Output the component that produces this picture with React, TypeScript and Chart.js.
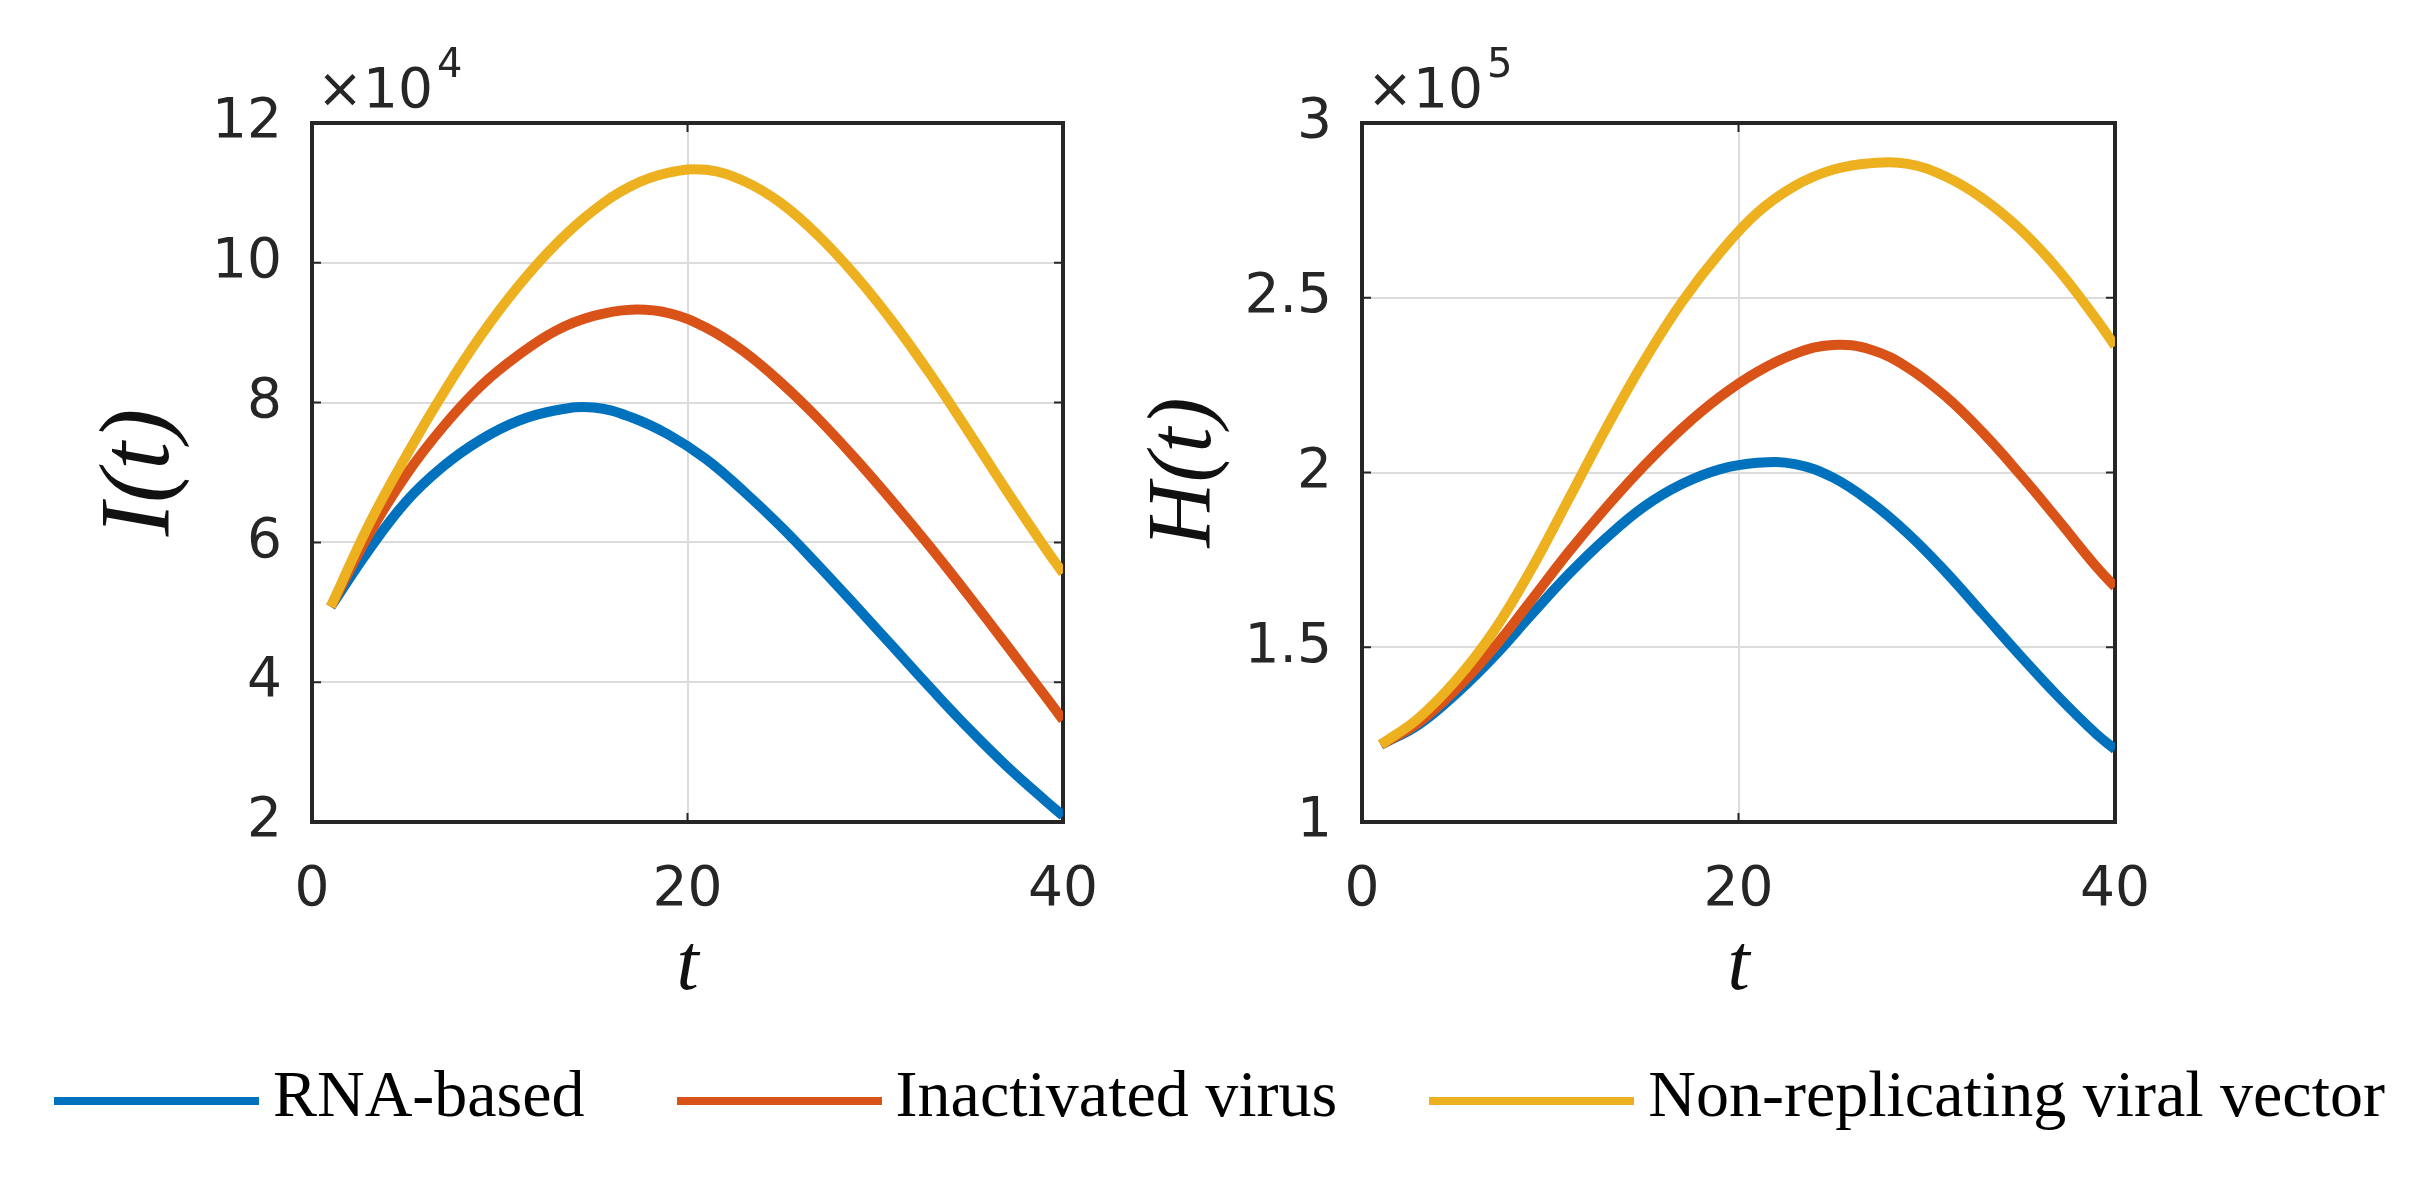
import { useEffect, useRef } from 'react';
import { Chart, registerables } from 'chart.js';

Chart.register(...registerables);

// time samples
const timePoints = [1, 3, 5, 7, 9, 11, 13, 15, 17, 19, 21, 23, 25, 27, 29, 31, 33, 35, 37, 39, 40];

// I(t)
const infectedRna = [50800, 58800, 65800, 70900, 74700, 77400, 78900, 79300, 77900, 75400, 71900, 67300, 62200, 56600, 50800, 44900, 39000, 33300, 28000, 23200, 20900];
const infectedInactivated = [50800, 61000, 69600, 76600, 82400, 86800, 90300, 92400, 93300, 92800, 90700, 87300, 82800, 77600, 71800, 65600, 59100, 52300, 45300, 38200, 34600];
const infectedViralVector = [50800, 62400, 72300, 81400, 89600, 96700, 102700, 107500, 111000, 112900, 113300, 111700, 108500, 103800, 98000, 91300, 83800, 75700, 67400, 59400, 55600];

// H(t)
const hospitalRna = [122100, 127800, 136700, 147300, 159300, 171000, 181400, 190300, 196700, 200900, 202800, 202400, 198600, 191600, 182500, 171600, 159500, 147400, 135800, 125200, 120800];
const hospitalInactivated = [122100, 128400, 138000, 149800, 163500, 177400, 190200, 202000, 212600, 221600, 228800, 234000, 236500, 235200, 230000, 221800, 211300, 199200, 186300, 173100, 167300];
const hospitalViralVector = [122100, 129700, 140600, 154600, 172400, 192600, 213000, 232000, 248800, 262800, 274300, 282000, 286600, 288500, 288300, 284700, 278300, 269400, 257900, 243900, 236200];

const seriesNames = ['RNA-based', 'Inactivated virus', 'Non-replicating viral vector'];
const seriesColors = ['#0072BD', '#D95319', '#EDB120'];

const xTicks = [0, 20, 40];
const infectedTicks = [2, 4, 6, 8, 10, 12];
const hospitalTicks = [1, 1.5, 2, 2.5, 3];

const AXIS_COLOR = '#262626';
const TICK_FONT = '"DejaVu Sans", sans-serif';
const SERIF = '"Liberation Serif", "Times New Roman", serif';

// draws the MATLAB-style box, inward ticks and the x10^n multiplier
const framePlugin = {
  id: 'frame',
  beforeDatasetsDraw(chart: any, _args: any, opts: any) {
    const { ctx, chartArea, scales } = chart;
    const { left, right, top, bottom } = chartArea;
    ctx.save();
    ctx.strokeStyle = AXIS_COLOR;
    ctx.lineWidth = 2;
    const tickLen = 9;
    ctx.beginPath();
    scales.x.ticks.forEach((t: any) => {
      const px = scales.x.getPixelForValue(t.value);
      ctx.moveTo(px, bottom);
      ctx.lineTo(px, bottom - tickLen);
      ctx.moveTo(px, top);
      ctx.lineTo(px, top + tickLen);
    });
    scales.y.ticks.forEach((t: any) => {
      const py = scales.y.getPixelForValue(t.value);
      ctx.moveTo(left, py);
      ctx.lineTo(left + tickLen, py);
      ctx.moveTo(right, py);
      ctx.lineTo(right - tickLen, py);
    });
    ctx.stroke();
    ctx.lineWidth = 4;
    ctx.strokeRect(left, top, right - left, bottom - top);

    ctx.fillStyle = AXIS_COLOR;
    ctx.textBaseline = 'alphabetic';
    ctx.textAlign = 'left';
    ctx.font = `55px ${TICK_FONT}`;
    const base = '\u00d710';
    ctx.fillText(base, left + 5, top - 16);
    const w = ctx.measureText(base).width;
    ctx.font = `40px ${TICK_FONT}`;
    ctx.fillText(opts.exponent, left + 5 + w + 4, top - 46);
    ctx.restore();
  },
};

interface PanelProps {
  series: number[][];
  yTicks: number[];
  divisor: number;
  exponent: string;
  yTitle: string;
  yTitleSize: number;
  left: number;
  width: number;
  yAxisWidth: number;
  yTitlePad: number;
}

const CANVAS_HEIGHT = 1020;
const BOX_TOP = 123;
const BOX_BOTTOM = 822;
const RIGHT_PAD = 77;

const Panel = ({ series, yTicks, divisor, exponent, yTitle, yTitleSize, left, width, yAxisWidth, yTitlePad }: PanelProps) => {
  const canvasRef = useRef<HTMLCanvasElement | null>(null);
  const chartRef = useRef<Chart | null>(null);

  useEffect(() => {
    if (!canvasRef.current) return;
    if (chartRef.current) chartRef.current.destroy();

    const tickCallback = (v: number | string) => String(Math.round((Number(v) / divisor) * 10) / 10);

    chartRef.current = new Chart(canvasRef.current, {
      type: 'line',
      data: {
        datasets: series.map((values, i) => ({
          label: seriesNames[i],
          data: timePoints.map((t, k) => ({ x: t, y: values[k] })),
          borderColor: seriesColors[i],
          backgroundColor: seriesColors[i],
          borderWidth: 10,
          pointRadius: 0,
          tension: 0.4,
          fill: false,
          order: 3 - i,
        })),
      },
      options: {
        responsive: true,
        maintainAspectRatio: false,
        animation: false,
        events: [],
        layout: {
          autoPadding: false,
          padding: { top: BOX_TOP, right: RIGHT_PAD, bottom: 0, left: 0 },
        },
        plugins: {
          legend: { display: false },
          tooltip: { enabled: false },
          frame: { exponent },
        } as any,
        scales: {
          x: {
            type: 'linear',
            min: xTicks[0],
            max: xTicks[xTicks.length - 1],
            afterBuildTicks: (scale: any) => {
              scale.ticks = xTicks.map((value) => ({ value }));
            },
            afterFit: (scale: any) => {
              scale.height = CANVAS_HEIGHT - BOX_BOTTOM;
            },
            border: { display: false },
            grid: { color: '#dcdcdc', lineWidth: 2, drawTicks: false },
            ticks: {
              padding: 36,
              color: AXIS_COLOR,
              font: { family: TICK_FONT, size: 55 },
              maxRotation: 0,
            },
            title: {
              display: true,
              text: 't',
              color: '#111',
              font: { family: SERIF, style: 'italic', size: 80 },
              padding: { top: 0, bottom: 4 },
            },
          },
          y: {
            type: 'linear',
            min: yTicks[0] * divisor,
            max: yTicks[yTicks.length - 1] * divisor,
            afterBuildTicks: (scale: any) => {
              scale.ticks = yTicks.map((v) => ({ value: v * divisor }));
            },
            afterFit: (scale: any) => {
              scale.width = yAxisWidth;
            },
            border: { display: false },
            grid: { color: '#dcdcdc', lineWidth: 2, drawTicks: false },
            ticks: {
              padding: 30,
              color: AXIS_COLOR,
              font: { family: TICK_FONT, size: 55 },
              callback: tickCallback,
            },
            title: {
              display: true,
              text: yTitle,
              color: '#111',
              font: { family: SERIF, style: 'italic', size: yTitleSize },
              padding: { top: yTitlePad, bottom: 0 },
            },
          },
        },
      },
      plugins: [framePlugin],
    });

    return () => {
      if (chartRef.current) {
        chartRef.current.destroy();
        chartRef.current = null;
      }
    };
  }, [series, yTicks, divisor, exponent, yTitle, yTitleSize, yAxisWidth, yTitlePad]);

  return (
    <div style={{ position: 'absolute', left, top: 0, width, height: CANVAS_HEIGHT }}>
      <canvas ref={canvasRef}></canvas>
    </div>
  );
};

const infectedSeries = [infectedRna, infectedInactivated, infectedViralVector];
const hospitalSeries = [hospitalRna, hospitalInactivated, hospitalViralVector];

const App = () => {
  return (
    <div style={{ position: 'fixed', left: 0, top: 0, width: 2416, height: 1184, background: '#fff', overflow: 'hidden' }}>
      <Panel
        series={infectedSeries}
        yTicks={infectedTicks}
        divisor={1e4}
        exponent="4"
        yTitle="I(t)"
        yTitleSize={100}
        left={40}
        width={1100}
        yAxisWidth={272}
        yTitlePad={42}
      />
      <Panel
        series={hospitalSeries}
        yTicks={hospitalTicks}
        divisor={1e5}
        exponent="5"
        yTitle="H(t)"
        yTitleSize={90}
        left={1110}
        width={1082}
        yAxisWidth={252}
        yTitlePad={22}
      />
      <div
        style={{
          position: 'absolute',
          left: 54,
          top: 1061,
          display: 'flex',
          alignItems: 'center',
          gap: 92,
          fontFamily: SERIF,
          fontSize: 66,
          lineHeight: 1,
          color: '#000',
          whiteSpace: 'nowrap',
        }}
      >
        {seriesNames.map((name, i) => (
          <div key={name} style={{ display: 'flex', alignItems: 'center' }}>
            <span
              style={{
                display: 'inline-block',
                width: 205,
                height: 8,
                background: seriesColors[i],
                marginRight: 14,
                position: 'relative',
                top: 7,
              }}
            />
            <span>{name}</span>
          </div>
        ))}
      </div>
    </div>
  );
};

export default App;
